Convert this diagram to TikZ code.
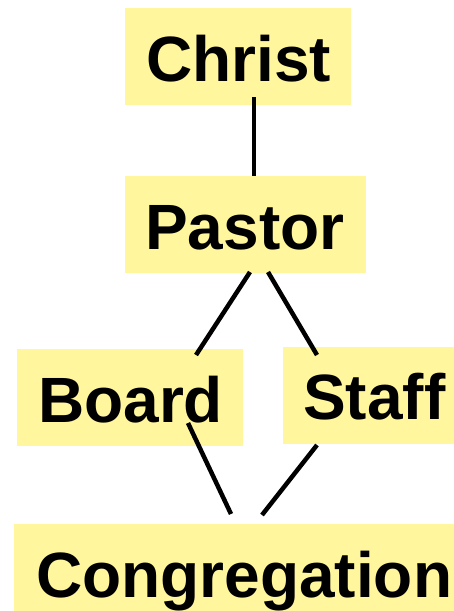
\documentclass[tikz,border=0pt]{standalone}
\usepackage{fontspec}
\setmainfont{Liberation Sans}
\definecolor{boxyellow}{RGB}{255,246,157}
\begin{document}
\begin{tikzpicture}[x=1pt,y=-1pt,
  box/.style={fill=boxyellow, draw=none, rectangle, inner sep=0pt, anchor=north west},
  txt/.style={font=\fontsize{64}{64}\bfseries\selectfont, inner sep=0pt, anchor=base west},
  link/.style={line width=4.5pt, black}]
\useasboundingbox (0,0) rectangle (454,611);
% boxes
\node[box, minimum width=226pt, minimum height=97pt] (christ) at (125,8) {};
\node[box, minimum width=241pt, minimum height=97pt] (pastor) at (125,176) {};
\node[box, minimum width=226pt, minimum height=97pt] (board) at (17,349) {};
\node[box, minimum width=171pt, minimum height=97pt] (staff) at (283,347) {};
\node[box, minimum width=440pt, minimum height=90pt] (cong) at (14,524) {};
% texts
\node[txt] (christT) at (146,81) {Christ};
\node[txt] (pastorT) at (145,249) {Pastor};
\node[txt] (boardT) at (38,422) {Board};
\node[txt] (staffT) at (303,419) {Staff};
\node[txt] (congT) at (36,597) {Congregation};
% connector ends
\coordinate (c1a) at (254,97);
\coordinate (c1b) at (254,176);
\coordinate (c2a) at (250,272);
\coordinate (c2b) at (196,355);
\coordinate (c3a) at (268,272);
\coordinate (c3b) at (317,355);
\coordinate (c4a) at (188,423);
\coordinate (c4b) at (231,514);
\coordinate (c5a) at (317,445);
\coordinate (c5b) at (262,515);
\draw[link] (c1a) -- (c1b);
\draw[link] (c2a) -- (c2b);
\draw[link] (c3a) -- (c3b);
\draw[link] (c4a) -- (c4b);
\draw[link] (c5a) -- (c5b);
\end{tikzpicture}
\end{document}
